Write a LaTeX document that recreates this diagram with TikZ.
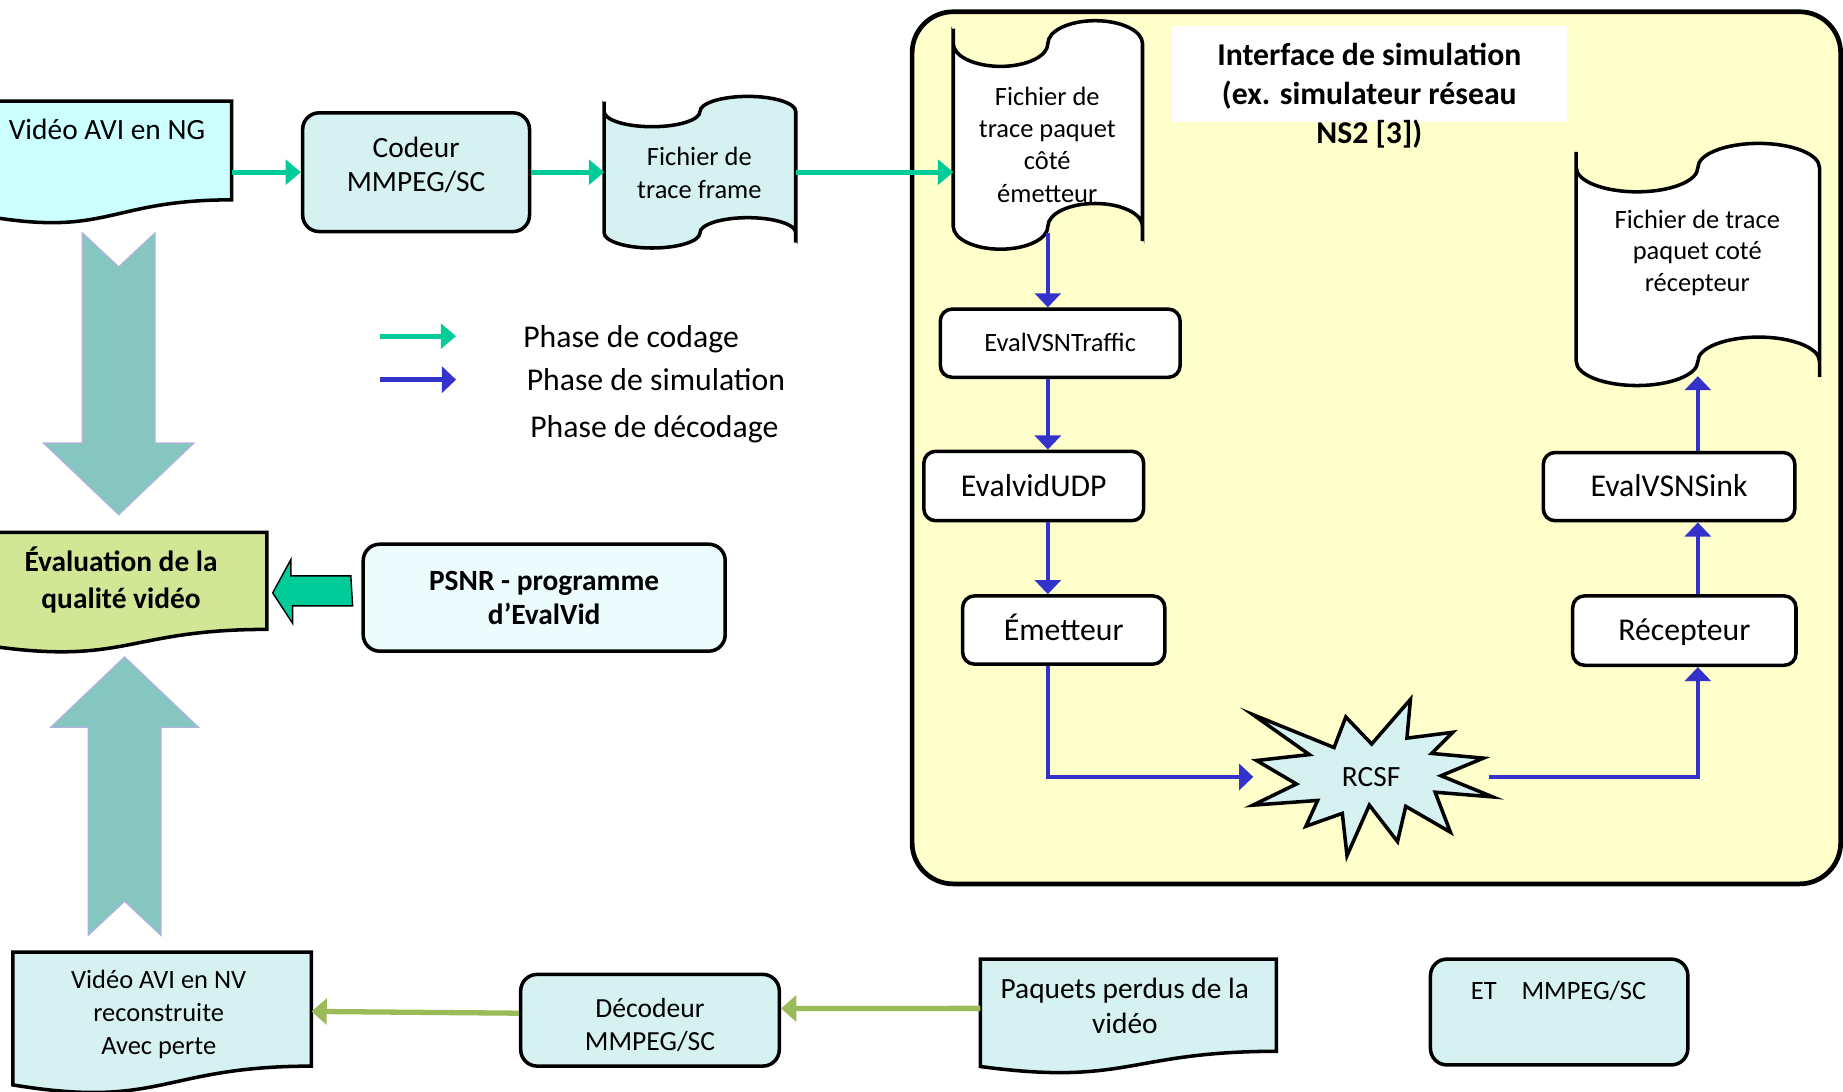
\documentclass[tikz,border=0pt]{standalone}
\usepackage{fontspec}
\setmainfont{Carlito}
\usetikzlibrary{arrows.meta,positioning,calc}

\definecolor{ccod}{RGB}{0,204,153}
\definecolor{csim}{RGB}{51,51,204}
\definecolor{cdec}{RGB}{155,187,89}
\definecolor{cboite}{RGB}{214,241,241}
\definecolor{ccyan}{RGB}{204,255,255}
\definecolor{cjaune}{RGB}{255,255,204}
\definecolor{cvert}{RGB}{210,231,150}
\definecolor{cpsnr}{RGB}{236,251,251}
\definecolor{cgrosse}{RGB}{134,198,192}
\definecolor{clavande}{RGB}{178,178,225}

\newcommand{\taille}[2]{\fontsize{#1}{#2}\selectfont}

% bande perforee (fichier de trace)
\newcommand{\bande}[2][white]{%
  \path[draw=black, line width=3pt, fill=#1, x=1pt, y=1pt]
    let \p1=(#2.north west), \p2=(#2.south east),
        \n1={(\x2-\x1)/4}, \n2={(\y1-\y2)/10} in
    (\x1,\y1-\n2)
      arc[start angle=180, end angle=360, x radius=\n1, y radius=\n2]
      arc[start angle=180, end angle=0, x radius=\n1, y radius=\n2]
      -- (\x2,\y2+\n2)
      arc[start angle=0, end angle=180, x radius=\n1, y radius=\n2]
      arc[start angle=0, end angle=-180, x radius=\n1, y radius=\n2]
      -- cycle
    (\x1,\y1-0.35*\n2) -- (\x1,\y1-\n2)
    (\x2,\y2+\n2) -- (\x2,\y2+0.35*\n2);}

% document a bord ondule
\newcommand{\feuille}[2][cboite]{%
  \path[draw=black, line width=3pt, fill=#1, x=1pt, y=1pt]
    let \p1=(#2.north west), \p2=(#2.south east),
        \n1={\x2-\x1}, \n2={\y1-\y2} in
    (\x1,\y1) -- (\x2,\y1) -- (\x2,\y1-0.802*\n2)
      .. controls (\x1+0.5*\n1,\y1-0.802*\n2) and (\x1+0.5*\n1,\y1-1.1075*\n2) .. (\x1,\y1-0.934*\n2)
      -- cycle;}

\tikzset{
  forme/.style={inner sep=0pt, outer sep=0pt},
  texte/.style={align=center, inner sep=0pt},
  boite/.style={draw, line width=3pt, rounded corners=14pt, fill=cboite, align=center, inner sep=0pt},
  simboite/.style={boite, fill=white, rounded corners=10pt, font=\taille{27}{32}, text height=17.5pt, text depth=0pt},
  zone/.style={draw, line width=4pt, rounded corners=35pt, fill=cjaune, minimum width=790pt, minimum height=742pt},
  titre/.style={align=center, inner sep=0pt, font=\bfseries\taille{27}{33}},
  legende/.style={inner sep=0pt, font=\taille{27}{32}},
  flcod/.style={draw=ccod, line width=4.5pt, -{Triangle[length=13pt,width=21pt]}},
  flsim/.style={draw=csim, line width=4pt, -{Triangle[length=12pt,width=22pt]}},
  fldec/.style={draw=cdec, line width=4.5pt, -{Triangle[length=13pt,width=22pt]}},
  grossefleche/.style={fill=cgrosse, draw=clavande, line width=1pt},
  flecheverte/.style={fill=ccod, draw=black, line width=1.2pt},
  etoile/.style={draw, line width=3pt, fill=cboite}
}

\begin{document}
\begin{tikzpicture}[x=1pt,y=-1pt]
\useasboundingbox (0,0) rectangle (1568,929);

% interface de simulation
\node[zone] (interface) at (1171,381) {};
\node[fill=white, minimum width=336pt, minimum height=82pt] (titrefond) at (1165,63) {};
\node[titre] (titre) at (1165,81.5) {Interface de simulation\\(ex. simulateur réseau\\NS2 [3])};

% phase de codage
\node[forme, minimum width=209pt, minimum height=104.7pt] (ng) at (92.5,138.4) {};
\feuille[ccyan]{ng}
\node[texte, font=\taille{25}{30}] (ngtexte) at (91,110) {Vidéo AVI en NG};

\node[boite, minimum width=193pt, minimum height=101pt] (codeur) at (354,146.5) {};
\node[texte, font=\taille{25}{29}] (codeurtexte) at (354,140.5) {Codeur\\MMPEG/SC};

\node[forme, minimum width=163pt, minimum height=129pt] (frame) at (595.5,146.5) {};
\bande[cboite]{frame}
\node[texte, font=\taille{22.5}{28.5}] (frametexte) at (595,147) {Fichier de\\trace frame};

% phase de simulation
\node[forme, minimum width=161pt, minimum height=194.4pt] (emission) at (891.5,114.8) {};
\bande{emission}
\node[texte, font=\taille{22.5}{27.5}] (emissiontexte) at (891,123) {Fichier de\\trace paquet\\côté\\émetteur};

\node[simboite, minimum width=204pt, minimum height=58pt, font=\taille{22.5}{27}, text height=14.5pt] (traffic) at (902,292) {EvalVSNTraffic};
\node[simboite, minimum width=187pt, minimum height=59pt] (udp) at (879.5,413.5) {EvalvidUDP};
\node[simboite, minimum width=172pt, minimum height=58pt] (emetteur) at (905,536) {Émetteur};

\draw[etoile] (1066,608) -- (1135,636) -- (1145,610) -- (1167,633) -- (1200,595) -- (1197,628)
  -- (1236,623) -- (1218,641) -- (1262,645) -- (1226,660) -- (1270,678) -- (1221,674)
  -- (1234,708) -- (1196,686) -- (1189,716) -- (1165,685) -- (1146,728) -- (1142,692)
  -- (1111,703) -- (1121,681) -- (1066,685) -- (1103,667) -- (1069,647) -- (1114,642) -- cycle;
\node[texte, minimum width=200pt, minimum height=130pt, font=\taille{25}{30}] (rcsf) at (1166.5,661) {RCSF};

\node[simboite, minimum width=190pt, minimum height=59pt] (recepteur) at (1433,536.5) {Récepteur};
\node[simboite, minimum width=214pt, minimum height=58pt] (sink) at (1420,414) {EvalVSNSink};

\node[forme, minimum width=207pt, minimum height=206pt] (reception) at (1444.5,225) {};
\bande{reception}
\node[texte, font=\taille{22.5}{27}] (receptiontexte) at (1444,215) {Fichier de trace\\paquet coté\\récepteur};

% legende
\coordinate (lega) at (323,286);
\coordinate (legb) at (388,286);
\coordinate (legc) at (323,323);
\coordinate (legd) at (388,323);
\node[legende, anchor=west] (phcod) at (445,289) {Phase de codage};
\node[legende, anchor=west] (phsim) at (448,323) {Phase de simulation};
\node[legende, anchor=west] (phdec) at (451,365.5) {Phase de décodage};

% evaluation
\node[forme, minimum width=239pt, minimum height=102.9pt] (eval) at (107.5,504.4) {};
\feuille[cvert]{eval}
\node[texte, font=\bfseries\taille{25}{31}] (evaltexte) at (103,493.5) {Évaluation de la\\qualité vidéo};

\node[boite, fill=cpsnr, minimum width=308pt, minimum height=91pt, font=\bfseries\taille{25}{29}] (psnr) at (463,508.5) {PSNR - programme\\d’EvalVid};

% phase de decodage
\node[forme, minimum width=254pt, minimum height=121pt] (nv) at (138,870.5) {};
\feuille{nv}
\node[texte, font=\taille{22.5}{28}] (nvtexte) at (135,863) {Vidéo AVI en NV\\reconstruite\\Avec perte};

\node[boite, minimum width=220pt, minimum height=78pt] (decodeur) at (553,868) {};
\node[texte, font=\taille{23.5}{28}] (decodeurtexte) at (553,872) {Décodeur\\MMPEG/SC};

\node[forme, minimum width=252pt, minimum height=97.8pt] (perdus) at (960,864.9) {};
\feuille{perdus}
\node[texte, font=\taille{25}{30}] (perdustexte) at (957,855.5) {Paquets perdus de la\\vidéo};

\node[boite, minimum width=219pt, minimum height=90pt] (et) at (1326.5,861) {};
\node[texte, font=\taille{22.5}{27}] (ettexte) at (1326,843) {ET\hspace{16pt} MMPEG/SC};

% connecteurs
\draw[flcod] (ng.east |- codeur.west) -- (codeur.west);
\draw[flcod] (codeur.east) -- (frame.west);
\draw[flcod] (frame.east) -- (emission.west |- frame.east);
\draw[flcod] (lega) -- (legb);

\draw[flsim] ([yshift=14pt]emission.south) -- (emission.south |- traffic.north);
\draw[flsim] (emission.south |- traffic.south) -- (emission.south |- udp.north);
\draw[flsim] (emission.south |- udp.south) -- (emission.south |- emetteur.north);
\draw[flsim] (emission.south |- emetteur.south) |- (rcsf.west);
\draw[flsim] (rcsf.east) -| (reception.south |- recepteur.south);
\draw[flsim] (reception.south |- recepteur.north) -- (reception.south |- sink.south);
\draw[flsim] (reception.south |- sink.north) -- ([yshift=8pt]reception.south);
\draw[flsim] (legc) -- (legd);

\draw[fldec] ([yshift=7pt]perdus.west) -- ([yshift=10pt]decodeur.east);
\draw[fldec] ([yshift=6pt]decodeur.west) -- ([yshift=10pt]nv.east);

\draw[grossefleche] ([xshift=-6.5pt,yshift=15pt]eval.north) -- ++(64,-61) -- ++(-33,0) -- ++(0,-179)
  -- ++(-31,29) -- ++(-31,-29) -- ++(0,179) -- ++(-33,0) -- cycle;
\draw[grossefleche] ([xshift=-1.5pt,yshift=-3pt]eval.south) -- ++(63,60) -- ++(-32,0) -- ++(0,177)
  -- ++(-31,-29) -- ++(-31,29) -- ++(0,-177) -- ++(-32,0) -- cycle;
\draw[flecheverte] (psnr.west) ++(-9,-18.5) -- ++(-51,0) -- ++(0,-14) -- ([xshift=5pt]eval.east)
  -- ++(17,26) -- ++(0,-15) -- ++(51,0) -- cycle;
\end{tikzpicture}
\end{document}
